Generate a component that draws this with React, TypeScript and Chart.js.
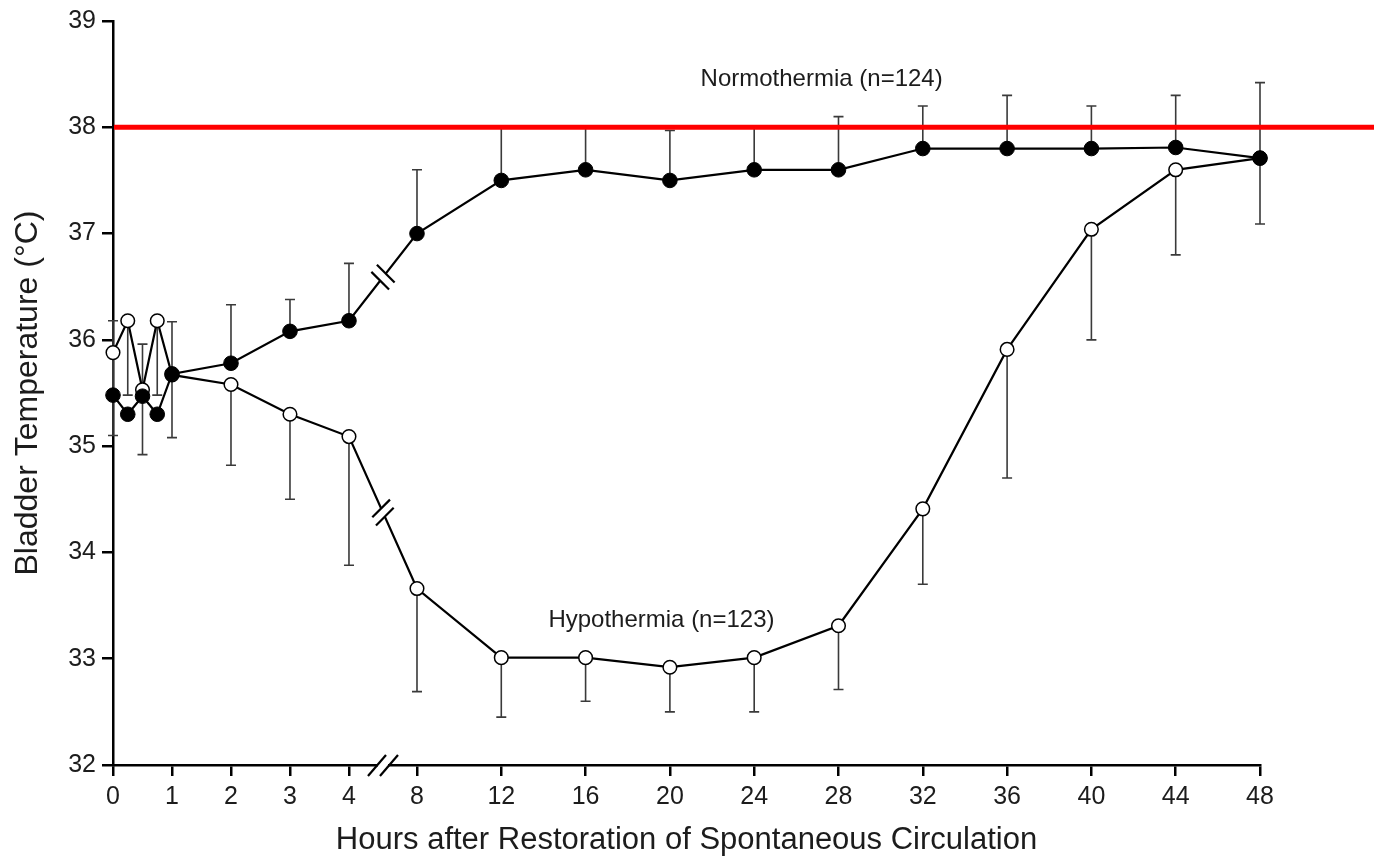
import React, { useEffect, useRef } from "react";
import { Chart, registerables } from "chart.js";

Chart.register(...registerables);

// ---- data ----
const hours = [0, 0.25, 0.5, 0.75, 1, 2, 3, 4, 8, 12, 16, 20, 24, 28, 32, 36, 40, 44, 48];
const normothermia = [35.48, 35.3, 35.47, 35.3, 35.68, 35.78, 36.08, 36.18, 37.0, 37.5, 37.6, 37.5, 37.6, 37.6, 37.8, 37.8, 37.8, 37.81, 37.71];
const normothermiaUpper = [36.18, null, 35.96, null, 36.17, 36.33, 36.38, 36.72, 37.6, 38.0, 38.0, 37.97, 38.0, 38.1, 38.2, 38.3, 38.2, 38.3, 38.42];
const hypothermia = [35.88, 36.18, 35.53, 36.18, 35.67, 35.58, 35.3, 35.09, 33.66, 33.01, 33.01, 32.92, 33.01, 33.31, 34.41, 35.91, 37.04, 37.6, 37.71];
const hypothermiaLower = [35.1, 35.48, 34.92, 35.48, 35.08, 34.82, 34.5, 33.88, 32.69, 32.45, 32.6, 32.5, 32.5, 32.71, 33.7, 34.7, 36.0, 36.8, 37.09];
const xTickHours = [0, 1, 2, 3, 4, 8, 12, 16, 20, 24, 28, 32, 36, 40, 44, 48];
const yTickValues = [32, 33, 34, 35, 36, 37, 38, 39];
const targetTemperature = 38;
const normLabel = "Normothermia (n=124)";
const hypoLabel = "Hypothermia (n=123)";
const xTitle = "Hours after Restoration of Spontaneous Circulation";
const yTitle = "Bladder Temperature (°C)";

// ---- broken axis transform (0-4 h hourly, then 4-hourly after a break) ----
const BREAK_GAP = 1.153;
const LATE_UNIT_PER_HOUR = 1.429 / 4;
function hourToAxis(h: number): number {
  return h <= 4 ? h : 4 + BREAK_GAP + (h - 8) * LATE_UNIT_PER_HOUR;
}

const normLabelPos = { hour: 27.2, temp: 38.45 };
const hypoLabelPos = { hour: 19.6, temp: 33.36 };

const FONT = "'Liberation Sans', Arial, sans-serif";
const TEXT = "#1c1c1c";

const overlayPlugin = {
  id: "overlay",
  beforeDatasetsDraw(chart: any) {
    const { ctx, scales } = chart;
    const xs = scales.x;
    const ys = scales.y;
    ctx.save();
    ctx.strokeStyle = "#3a3a3a";
    ctx.lineWidth = 1.6;
    const drawBar = (h: number, from: number, to: number | null) => {
      if (to === null || to === undefined) return;
      const px = xs.getPixelForValue(hourToAxis(h));
      const y0 = ys.getPixelForValue(from);
      const y1 = ys.getPixelForValue(to);
      ctx.beginPath();
      ctx.moveTo(px, y0);
      ctx.lineTo(px, y1);
      ctx.moveTo(px - 5, y1);
      ctx.lineTo(px + 5, y1);
      ctx.stroke();
    };
    hours.forEach((h, i) => {
      drawBar(h, normothermia[i], normothermiaUpper[i]);
      drawBar(h, hypothermia[i], hypothermiaLower[i]);
    });
    ctx.restore();
  },
  afterDatasetsDraw(chart: any) {
    const { ctx, scales, chartArea } = chart;
    const xs = scales.x;
    const ys = scales.y;
    const i4 = hours.indexOf(4);
    const i8 = hours.indexOf(8);

    // break marks on the two series lines
    const lineBreak = (dsIndex: number) => {
      const meta = chart.getDatasetMeta(dsIndex);
      const a = meta.data[i4];
      const b = meta.data[i8];
      const cx = (a.x + b.x) / 2;
      const cy = (a.y + b.y) / 2;
      const dx = b.x - a.x;
      const dy = b.y - a.y;
      const len = Math.hypot(dx, dy);
      const ux = dx / len;
      const uy = dy / len;
      const mx = Math.SQRT1_2;
      const my = dy < 0 ? Math.SQRT1_2 : -Math.SQRT1_2;
      const gap = 4.5;
      const half = 12.5;
      const p1 = { x: cx - ux * gap, y: cy - uy * gap };
      const p2 = { x: cx + ux * gap, y: cy + uy * gap };
      ctx.save();
      ctx.fillStyle = "#ffffff";
      ctx.beginPath();
      ctx.moveTo(p1.x - mx * 5, p1.y - my * 5);
      ctx.lineTo(p1.x + mx * 5, p1.y + my * 5);
      ctx.lineTo(p2.x + mx * 5, p2.y + my * 5);
      ctx.lineTo(p2.x - mx * 5, p2.y - my * 5);
      ctx.closePath();
      ctx.fill();
      ctx.strokeStyle = "#000";
      ctx.lineWidth = 2.2;
      [p1, p2].forEach((p) => {
        ctx.beginPath();
        ctx.moveTo(p.x - mx * half, p.y - my * half);
        ctx.lineTo(p.x + mx * half, p.y + my * half);
        ctx.stroke();
      });
      ctx.restore();
    };
    lineBreak(0);
    lineBreak(1);

    // break on the x axis
    const bx = (xs.getPixelForValue(hourToAxis(4)) + xs.getPixelForValue(hourToAxis(8))) / 2;
    const by = chartArea.bottom;
    ctx.save();
    ctx.fillStyle = "#ffffff";
    ctx.fillRect(bx - 5, by - 3, 10, 6);
    ctx.strokeStyle = "#000";
    ctx.lineWidth = 2.2;
    [-6, 6].forEach((off) => {
      ctx.beginPath();
      ctx.moveTo(bx + off - 9, by + 11);
      ctx.lineTo(bx + off + 9, by - 10);
      ctx.stroke();
    });
    ctx.restore();

    // target temperature line
    const ry = ys.getPixelForValue(targetTemperature);
    ctx.save();
    ctx.strokeStyle = "#ff0000";
    ctx.lineWidth = 5;
    ctx.beginPath();
    ctx.moveTo(chartArea.left + 1, ry);
    ctx.lineTo(chart.width, ry);
    ctx.stroke();
    ctx.restore();

    // group labels
    ctx.save();
    ctx.fillStyle = TEXT;
    ctx.font = `24px ${FONT}`;
    ctx.textAlign = "center";
    ctx.textBaseline = "middle";
    ctx.fillText(normLabel, xs.getPixelForValue(hourToAxis(normLabelPos.hour)), ys.getPixelForValue(normLabelPos.temp));
    ctx.fillText(hypoLabel, xs.getPixelForValue(hourToAxis(hypoLabelPos.hour)), ys.getPixelForValue(hypoLabelPos.temp));
    ctx.restore();
  },
};

export default function App() {
  const canvasRef = useRef<HTMLCanvasElement | null>(null);

  useEffect(() => {
    const canvas = canvasRef.current;
    if (!canvas) return;
    const chart = new Chart(canvas, {
      type: "line",
      data: {
        datasets: [
          {
            label: "Normothermia",
            data: hours.map((h, i) => ({ x: hourToAxis(h), y: normothermia[i] })),
            borderColor: "#000",
            borderWidth: 2.2,
            backgroundColor: "#000",
            pointBackgroundColor: "#000",
            pointBorderColor: "#000",
            pointBorderWidth: 1,
            pointRadius: 7.3,
            tension: 0,
            clip: false,
          },
          {
            label: "Hypothermia",
            data: hours.map((h, i) => ({ x: hourToAxis(h), y: hypothermia[i] })),
            borderColor: "#000",
            borderWidth: 2.2,
            backgroundColor: "#fff",
            pointBackgroundColor: "#fff",
            pointBorderColor: "#000",
            pointBorderWidth: 1.5,
            pointRadius: 6.8,
            tension: 0,
            clip: false,
          },
        ],
      },
      options: {
        animation: false,
        responsive: true,
        maintainAspectRatio: false,
        layout: { padding: { top: 18, right: 114, left: 0, bottom: 0 } },
        plugins: {
          legend: { display: false },
          tooltip: { enabled: false },
        },
        scales: {
          x: {
            type: "linear",
            min: 0,
            max: hourToAxis(48),
            afterBuildTicks: (scale: any) => {
              scale.ticks = xTickHours.map((h) => ({ value: hourToAxis(h) }));
            },
            afterFit: (scale: any) => {
              scale.height = 94;
            },
            ticks: {
              autoSkip: false,
              maxRotation: 0,
              padding: 6,
              color: TEXT,
              font: { family: FONT, size: 25 },
              callback: (_v: any, i: number) => String(xTickHours[i]),
            },
            grid: {
              display: true,
              drawOnChartArea: false,
              drawTicks: true,
              tickLength: 11,
              color: "#000",
              lineWidth: 2.5,
            },
            border: { display: true, color: "#000", width: 2.5 },
            title: {
              display: true,
              text: xTitle,
              color: TEXT,
              font: { family: FONT, size: 31 },
              padding: { top: 0, bottom: 0 },
            },
          },
          y: {
            type: "linear",
            min: 32,
            max: 39,
            afterBuildTicks: (scale: any) => {
              scale.ticks = yTickValues.map((v) => ({ value: v }));
            },
            afterFit: (scale: any) => {
              scale.width = 113;
            },
            ticks: {
              padding: 6,
              color: TEXT,
              font: { family: FONT, size: 25 },
              callback: (v: any) => String(v),
            },
            grid: {
              display: true,
              drawOnChartArea: false,
              drawTicks: true,
              tickLength: 11,
              color: "#000",
              lineWidth: 2.5,
            },
            border: { display: true, color: "#000", width: 2.5 },
            title: {
              display: true,
              text: yTitle,
              color: TEXT,
              font: { family: FONT, size: 32 },
              padding: { top: 9, bottom: 0 },
            },
          },
        },
      },
      plugins: [overlayPlugin],
    } as any);
    return () => chart.destroy();
  }, []);

  return (
    <div style={{ position: "fixed", left: 0, top: 0, width: 1374, height: 859, background: "#fff" }}>
      <canvas ref={canvasRef} />
    </div>
  );
}
